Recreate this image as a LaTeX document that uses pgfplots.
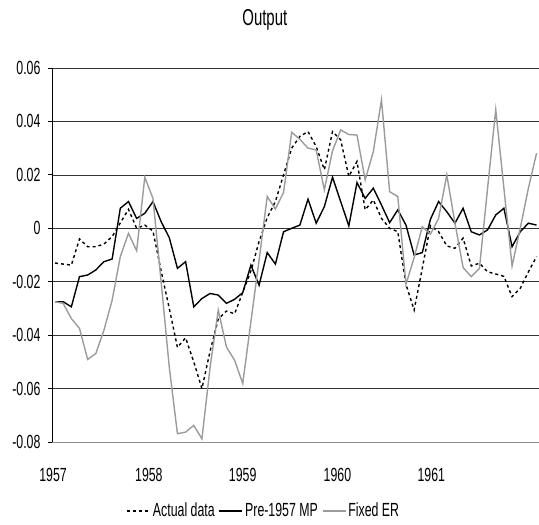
\documentclass[border=0pt]{standalone}
\usepackage{pgfplots}
\usepackage{pgfplotstable}
\pgfplotsset{compat=1.18}
\usepackage{fontspec}
\setmainfont[FakeStretch=0.65]{Liberation Sans}

% monthly index 0..59 = 1957m1 .. 1961m12
\pgfplotstableread{
i  actual   pre      fixed
0  -0.0130  -0.0275  -0.0275
1  -0.0134  -0.0275  -0.0281
2  -0.0138  -0.0294  -0.0338
3  -0.0040  -0.0181  -0.0375
4  -0.0069  -0.0175  -0.0491
5  -0.0069  -0.0156  -0.0469
6  -0.0059  -0.0125  -0.0381
7  -0.0031  -0.0115  -0.0269
8   0.0020   0.0075  -0.0106
9   0.0071   0.0100  -0.0019
10  0.0000   0.0037  -0.0084
11  0.0012   0.0056   0.0191
12 -0.0010   0.0100   0.0112
13 -0.0160   0.0025  -0.0200
14 -0.0300  -0.0035  -0.0520
15 -0.0446  -0.0150  -0.0769
16 -0.0410  -0.0125  -0.0763
17 -0.0500  -0.0294  -0.0738
18 -0.0600  -0.0263  -0.0788
19 -0.0460  -0.0244  -0.0520
20 -0.0340  -0.0250  -0.0306
21 -0.0310  -0.0281  -0.0444
22 -0.0320  -0.0266  -0.0494
23 -0.0240  -0.0241  -0.0581
24 -0.0160  -0.0138  -0.0350
25 -0.0050  -0.0213  -0.0120
26  0.0040  -0.0091   0.0119
27  0.0100  -0.0134   0.0072
28  0.0200  -0.0013   0.0134
29  0.0300   0.0000   0.0359
30  0.0344   0.0012   0.0333
31  0.0362   0.0109   0.0300
32  0.0306   0.0019   0.0293
33  0.0219   0.0081   0.0144
34  0.0362   0.0191   0.0290
35  0.0331   0.0100   0.0368
36  0.0194   0.0009   0.0351
37  0.0250   0.0171   0.0349
38  0.0069   0.0112   0.0181
39  0.0106   0.0150   0.0287
40  0.0037   0.0087   0.0481
41  0.0000   0.0021   0.0137
42 -0.0013   0.0069   0.0119
43 -0.0210   0.0012  -0.0210
44 -0.0306  -0.0100  -0.0110
45 -0.0150  -0.0091   0.0006
46  0.0010   0.0034  -0.0022
47 -0.0013   0.0100   0.0037
48 -0.0066   0.0062   0.0200
49 -0.0075   0.0019   0.0020
50 -0.0037   0.0075  -0.0147
51 -0.0141  -0.0013  -0.0181
52 -0.0131  -0.0025  -0.0150
53 -0.0163  -0.0006   0.0150
54 -0.0171   0.0050   0.0444
55 -0.0180   0.0075   0.0150
56 -0.0256  -0.0069  -0.0141
57 -0.0225  -0.0013   0.0000
58 -0.0163   0.0019   0.0150
59 -0.0106   0.0012   0.0281
}\outputdata

\definecolor{fixedgrey}{RGB}{155,155,155}

\begin{document}
\fontsize{19}{21}\selectfont
\begin{tikzpicture}
  \begin{axis}[
      name=ax,
      scale only axis,
      width=487pt,
      height=374pt,
      xmin=-0.37, xmax=59.3,
      ymin=-0.08, ymax=0.06,
      axis lines*=left,
      x axis line style={draw=black!45, line width=0.8pt},
      y axis line style={draw=black, line width=0.8pt},
      xtick={-0.24,11.5,23.0,34.6,46.1},
      xticklabels={1957,1958,1959,1960,1961},
      xtick style={draw=none},
      xticklabel style={anchor=center, yshift=-29pt},
      scaled y ticks=false,
      ytick={-0.08,-0.06,-0.04,-0.02,0,0.02,0.04,0.06},
      yticklabels={-0.08,-0.06,-0.04,-0.02,0,0.02,0.04,0.06},
      ytick style={draw=black, line width=0.8pt},
      tick align=outside,
      major tick length=4pt,
      yticklabel style={anchor=east, xshift=-1pt},
      /pgf/number format/assume math mode=true,
      ymajorgrids,
      grid style={draw=black!80, line width=0.7pt},
      title={Output},
      title style={at={(0.437,1.112)}, anchor=center, font=\fontsize{23}{25}\selectfont},
      legend columns=3,
      legend style={at={(0.435,-0.184)}, anchor=center, draw=none, fill=none,
        font=\fontsize{19}{21}\selectfont,
        /tikz/every even column/.append style={column sep=2pt}},
      legend image code/.code={\draw[#1] (0pt,0pt) -- (23pt,0pt);},
    ]
    \addplot[black, line width=1.4pt, dash pattern=on 3pt off 3pt] table[x=i, y=actual] {\outputdata};
    \addlegendentry{Actual data}
    \addplot[black, line width=1.4pt] table[x=i, y=pre] {\outputdata};
    \addlegendentry{Pre-1957 MP}
    \addplot[fixedgrey, line width=1.4pt] table[x=i, y=fixed] {\outputdata};
    \addlegendentry{Fixed ER}
  \end{axis}
  \pgfresetboundingbox
  \path[use as bounding box] ([xshift=-52pt,yshift=-83pt]ax.south west) rectangle ([yshift=68pt]ax.north east);
\end{tikzpicture}
\end{document}
